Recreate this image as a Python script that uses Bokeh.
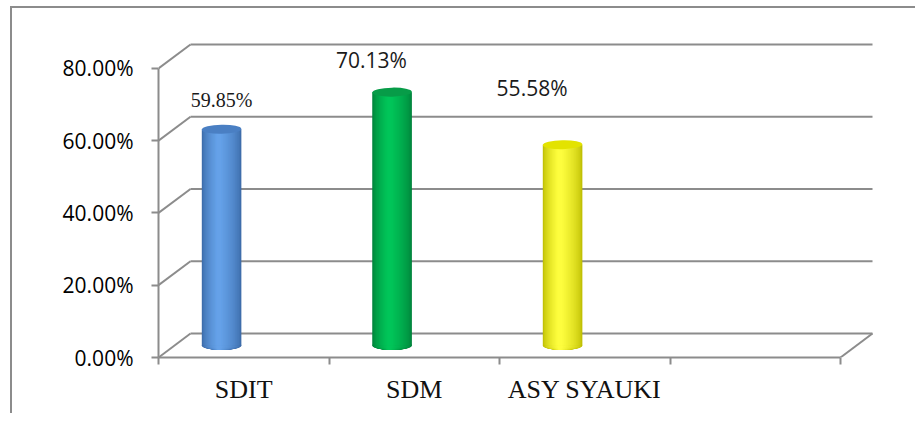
import numpy as np
from bokeh.plotting import figure
from bokeh.models import Range1d, LinearAxis, FixedTicker, NumeralTickFormatter
from bokeh.core.properties import value
from bokeh.embed import file_html
from bokeh.resources import INLINE

# ---- data ----
categories = ["SDIT", "SDM", "ASY SYAUKI", ""]
values = [0.5985, 0.7013, 0.5558]
value_labels = ["59.85%", "70.13%", "55.58%"]
y_ticks = [0.0, 0.2, 0.4, 0.6, 0.8]

# ---- style ----
GRID = "#8c8c8c"
body_dark = ["#3b69a6", "#00803a", "#bcbc00"]
body_light = ["#66a3ea", "#00c75a", "#ffff40"]
top_col = ["#4a7fc3", "#079c48", "#e3e300"]
label_fonts = ["Liberation Serif", "Open Sans", "Open Sans"]
label_sizes = ["20px", "21px", "21px"]
label_dy = [0.113, 0.121, 0.189]
label_dx = [0.0, -0.121, -0.179]

DX = 0.1877   # depth offset in x (category units)
DY = 0.0664   # depth offset in y (fraction)
n_slots = len(categories)

p = figure(width=905, height=407, output_backend="svg", toolbar_location=None,
           x_range=Range1d(0, 4.4516), y_range=Range1d(0, 0.9605),
           min_border_left=146, min_border_right=0, min_border_top=2,
           min_border_bottom=58, x_axis_type=None, y_axis_type=None)
p.grid.visible = False
p.outline_line_color = None
p.background_fill_color = "white"
# outer chart border (only its left and top edges fall inside the window)
p.styles = {"margin-left": "10px", "margin-top": "6px",
            "border-left": "2px solid #8c8c8c", "border-top": "2px solid #8c8c8c"}

# back wall gridlines + left wall diagonals
for t in y_ticks:
    p.line([DX, n_slots + DX], [t + DY, t + DY], line_color=GRID, line_width=2)
    p.line([0, DX], [t, t + DY], line_color=GRID, line_width=2)
# floor right edge
p.line([n_slots, n_slots + DX], [0, DY], line_color=GRID, line_width=2)

# cylinders (nested bars give a smooth horizontal shading)
bw = 0.232
eh = 0.025
K = 30
for i, v in enumerate(values):
    xc = i + 0.37
    y0 = DY / 2
    y1 = v + DY / 2
    c0 = np.array([int(body_dark[i][k:k + 2], 16) for k in (1, 3, 5)])
    c1 = np.array([int(body_light[i][k:k + 2], 16) for k in (1, 3, 5)])
    xs, ws, cols = [], [], []
    for k in range(K):
        f = k / K
        w = bw * (1 - f * 0.92)
        cx = xc - 0.07 * bw * f
        c = (c0 + (c1 - c0) * (f ** 0.6)).astype(int)
        xs.append(cx)
        ws.append(w)
        cols.append("#%02x%02x%02x" % tuple(c))
    p.ellipse(x=xs, y=[y0] * K, width=ws, height=eh, fill_color=cols, line_color=None)
    p.vbar(x=xs, top=[y1] * K, bottom=[y0] * K, width=ws, fill_color=cols, line_color=None)
    # top face
    p.ellipse(x=[xc], y=[y1], width=bw, height=eh, angle=0.02,
              fill_color=top_col[i], line_color=None)
    # value label
    p.text(x=[xc + label_dx[i]], y=[v + label_dy[i]], text=[value_labels[i]],
           text_font=value(label_fonts[i]), text_font_size=label_sizes[i],
           text_align="center", text_baseline="middle", text_color="#1a1a1a")

# y axis
yax = LinearAxis(ticker=FixedTicker(ticks=y_ticks),
                 formatter=NumeralTickFormatter(format="0.00%"))
yax.bounds = (0, 0.8)
yax.axis_line_color = GRID
yax.axis_line_width = 2
yax.major_tick_line_color = GRID
yax.major_tick_line_width = 2
yax.major_tick_out = 7
yax.major_tick_in = 0
yax.minor_tick_line_color = None
yax.major_label_standoff = 18
yax.major_label_text_font = "Open Sans"
yax.major_label_text_font_size = "21px"
yax.major_label_text_color = "#000000"
p.add_layout(yax, "left")

# x axis
centers = [i + 0.5 for i in range(n_slots)]
xax = LinearAxis(ticker=FixedTicker(ticks=centers, minor_ticks=list(range(n_slots + 1))))
xax.major_label_overrides = {c: lab for c, lab in zip(centers, categories)}
xax.bounds = (0, n_slots)
xax.axis_line_color = GRID
xax.axis_line_width = 2
xax.major_tick_line_color = None
xax.minor_tick_line_color = GRID
xax.minor_tick_line_width = 2
xax.minor_tick_out = 7
xax.minor_tick_in = 0
xax.major_label_standoff = 10
xax.major_label_text_font = "Liberation Serif"
xax.major_label_text_font_size = "26px"
xax.major_label_text_color = "#111111"
p.add_layout(xax, "below")

open("out.html", "w").write(file_html(p, INLINE))
